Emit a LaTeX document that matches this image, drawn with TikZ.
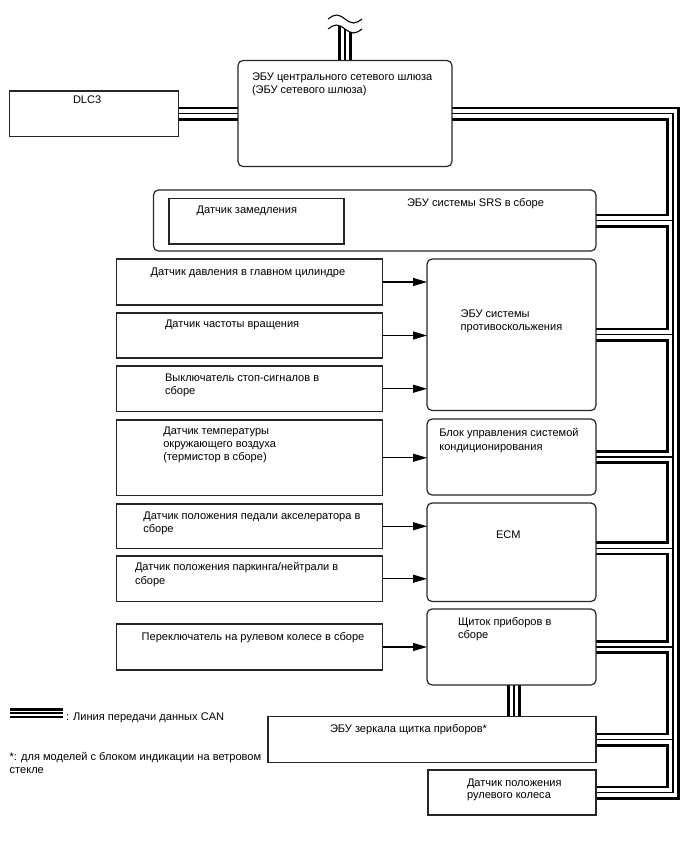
\documentclass[tikz,border=0pt]{standalone}
\usepackage{fontspec}
\setmainfont{Liberation Sans}
\usetikzlibrary{arrows.meta,backgrounds}
\newcommand\canbusnet[1]{%
  \draw[#1] (gw.east) -- (gw.east -| tr) -- (sts.east -| tr) -- (sts.east);
  \draw[#1] (dlc.east) -- (dlc.east -| gw.west);
  \draw[#1] (srs.east) -- (srs.east -| tr);
  \draw[#1] (abs.east) -- (abs.east -| tr);
  \draw[#1] (ac.east) -- (ac.east -| tr);
  \draw[#1] ([yshift=4pt]ecm.east) -- ([yshift=4pt]ecm.east -| tr);
  \draw[#1] (cm.east) -- (cm.east -| tr);
  \draw[#1] (mir.east) -- (mir.east -| tr);
  \draw[#1] (cm.south -| cmx) -- (mir.north -| cmx);
  \draw[#1] (gw.north) -- (tl);
}
\begin{document}
\begin{tikzpicture}[x=1pt,y=-1pt,
  box/.style={draw=black!85,line width=1.2pt,inner sep=0pt,outer sep=0pt,anchor=north west},
  rbox/.style={box,rounded corners=5pt},
  txt/.style={anchor=base west,inner sep=0pt,outer sep=0pt,font=\fontsize{11.05}{13}\selectfont},
  arr/.style={line width=1.1pt,-{Triangle[length=14pt,width=8pt]}},
  busA/.style={line width=14pt,black},
  busB/.style={line width=8.6pt,white},
  busC/.style={line width=1.3pt,black}]
\useasboundingbox (0,0) rectangle (688,852);

% boxes
\node[box,minimum width=169pt,minimum height=45.5pt] (dlc) at (9.5,91) {};
\node[rbox,minimum width=214pt,minimum height=106pt] (gw) at (238,60.5) {};
\node[rbox,minimum width=442.5pt,minimum height=61pt] (srs) at (153.5,190) {};
\node[box,minimum width=175pt,minimum height=45.5pt] (dec) at (169,198.5) {};
\node[box,minimum width=266pt,minimum height=46pt] (ms) at (116.5,259) {};
\node[box,minimum width=266pt,minimum height=45pt] (sp) at (116.5,313) {};
\node[box,minimum width=266pt,minimum height=45.5pt] (stp) at (116.5,366) {};
\node[box,minimum width=266pt,minimum height=75.5pt] (tmp) at (116.5,420) {};
\node[box,minimum width=266pt,minimum height=44.5pt] (app) at (116.5,504) {};
\node[box,minimum width=266pt,minimum height=45.5pt] (pnp) at (116.5,556) {};
\node[box,minimum width=266pt,minimum height=46pt] (sws) at (116.5,624) {};
\node[rbox,minimum width=169pt,minimum height=151.5pt] (abs) at (427,259) {};
\node[rbox,minimum width=169pt,minimum height=76pt] (ac) at (427,419) {};
\node[rbox,minimum width=169pt,minimum height=98.5pt] (ecm) at (427,503) {};
\node[rbox,minimum width=169pt,minimum height=76pt] (cm) at (427,609) {};
\node[box,minimum width=328pt,minimum height=46pt] (mir) at (268,716.5) {};
\node[box,minimum width=168pt,minimum height=45pt] (sts) at (428,770) {};

\coordinate (tr) at (673,0);
\coordinate (cmx) at (514,0);
\coordinate (tl) at (345,22);
\coordinate (lg1) at (9.5,713);
\coordinate (lg2) at (62.5,713);

% CAN bus
\begin{scope}[on background layer]
  \canbusnet{busA}
  \canbusnet{busB}
  \canbusnet{busC}
  \fill[white] (328,8) -- (328,29) sin (336.5,25) cos (345,29) sin (353.5,33) cos (362,29) -- (362,8) -- cycle;
  \draw[line width=1.1pt] (328,19) sin (336.5,15) cos (345,19) sin (353.5,23) cos (362,19);
  \draw[line width=1.1pt] (328,29) sin (336.5,25) cos (345,29) sin (353.5,33) cos (362,29);
  \draw[line width=10pt] (lg1) -- (lg2);
  \draw[line width=5pt,white] (lg1) -- (lg2);
  \draw[line width=1.2pt] (lg1) -- (lg2);
\end{scope}

% arrows
\draw[arr] (ms.east) -- (ms.east -| abs.west);
\draw[arr] (sp.east) -- (sp.east -| abs.west);
\draw[arr] (stp.east) -- (stp.east -| abs.west);
\draw[arr] (tmp.east) -- (tmp.east -| ac.west);
\draw[arr] (app.east) -- (app.east -| ecm.west);
\draw[arr] (pnp.east) -- (pnp.east -| ecm.west);
\draw[arr] (sws.east) -- (sws.east -| cm.west);

% texts
\node[txt] (t-dlc) at (73,103.5) {DLC3};
\node[txt] (t-gw1) at (252,80.2) {ЭБУ центрального сетевого шлюза};
\node[txt] (t-gw2) at (252,93.5) {(ЭБУ сетевого шлюза)};
\node[txt,anchor=base east] (t-srs) at (544,206.2) {ЭБУ системы SRS в сборе};
\node[txt] (t-dec) at (196.7,213.5) {Датчик замедления};
\node[txt] (t-ms) at (150.7,275.2) {Датчик давления в главном цилиндре};
\node[txt] (t-sp) at (165,327.5) {Датчик частоты вращения};
\node[txt] (t-stp1) at (165,381.2) {Выключатель стоп-сигналов в};
\node[txt] (t-stp2) at (165,394.2) {сборе};
\node[txt] (t-tmp1) at (163.3,434.2) {Датчик температуры};
\node[txt] (t-tmp2) at (163.3,447.5) {окружающего воздуха};
\node[txt] (t-tmp3) at (163.3,460.2) {(термистор в сборе)};
\node[txt] (t-app1) at (143.3,519.5) {Датчик положения педали акселератора в};
\node[txt] (t-app2) at (143.3,532.5) {сборе};
\node[txt] (t-pnp1) at (135,570.8) {Датчик положения паркинга/нейтрали в};
\node[txt] (t-pnp2) at (135,584.2) {сборе};
\node[txt] (t-sws) at (141.7,640.2) {Переключатель на рулевом колесе в сборе};
\node[txt] (t-abs1) at (460.7,317.5) {ЭБУ системы};
\node[txt] (t-abs2) at (460.7,330.8) {противоскольжения};
\node[txt] (t-ac1) at (439.3,436.8) {Блок управления системой};
\node[txt] (t-ac2) at (439.3,450.2) {кондиционирования};
\node[txt] (t-ecm) at (496,538.5) {ECM};
\node[txt] (t-cm1) at (458,625.2) {Щиток приборов в};
\node[txt] (t-cm2) at (458,638.5) {сборе};
\node[txt] (t-mir) at (330,732.8) {ЭБУ зеркала щитка приборов*};
\node[txt] (t-sts1) at (467,786.2) {Датчик положения};
\node[txt] (t-sts2) at (467,798.5) {рулевого колеса};
\node[txt] (t-lg) at (66,720.2) {: Линия передачи данных CAN};
\node[txt] (t-fn1) at (9.7,760.2) {*: для моделей с блоком индикации на ветровом};
\node[txt] (t-fn2) at (9.7,773.5) {стекле};
\end{tikzpicture}
\end{document}
